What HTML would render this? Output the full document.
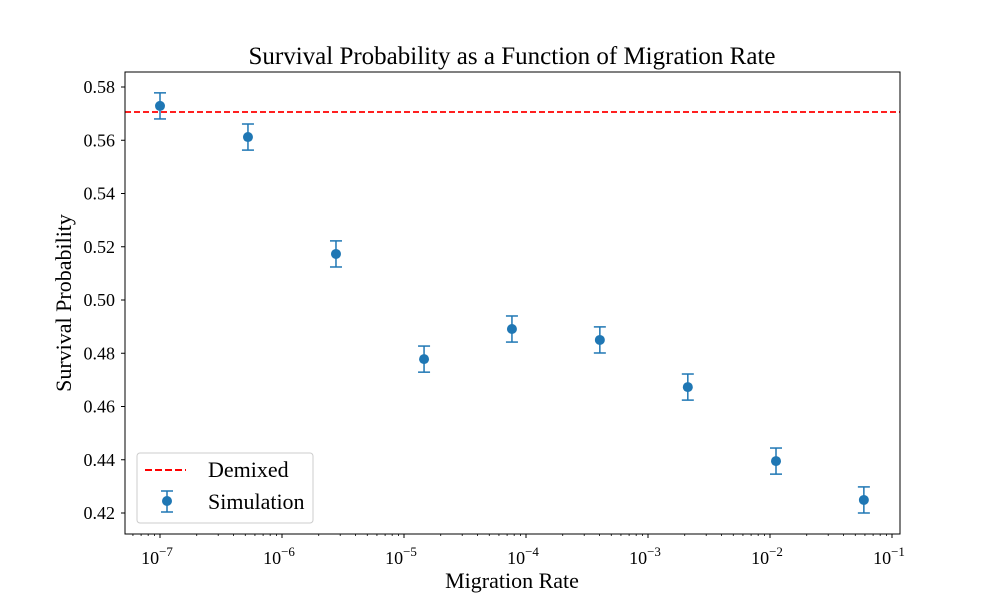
<!DOCTYPE html>
<html><head><meta charset="utf-8"><style>
body{margin:0;background:#fff}
svg text{font-family:"Liberation Serif",serif;fill:#000}
</style></head><body>
<svg id="chart" width="1000" height="600">
<text x="512" y="64" font-size="25" text-anchor="middle">Survival Probability as a Function of Migration Rate</text>
<g id="axes"></g>
<g id="marks"></g>
<text x="512" y="588" font-size="22" text-anchor="middle">Migration Rate</text>
<text transform="translate(71,303) rotate(-90)" font-size="22" text-anchor="middle">Survival Probability</text>
<rect x="125" y="72" width="775" height="462" fill="none" stroke="#000" stroke-width="1"/>
<g>
<rect x="137" y="453" width="176" height="70" rx="3" fill="#fff" fill-opacity="0.8" stroke="#ccc"/>
<line x1="145" y1="470" x2="186" y2="470" stroke="red" stroke-width="2" stroke-dasharray="7,3"/>
<text x="208" y="477" font-size="22">Demixed</text>
<g stroke="#1f77b4" stroke-width="1.5">
<line x1="167" y1="491" x2="167" y2="512"/><line x1="161" y1="491" x2="173" y2="491"/><line x1="161" y1="512" x2="173" y2="512"/>
</g>
<circle cx="167" cy="501" r="5" fill="#1f77b4"/>
<text x="208" y="509" font-size="22">Simulation</text>
</g>
</svg>
<script>
const rates = [1e-7, 5.26e-7, 2.77e-6, 1.46e-5, 7.67e-5, 4.03e-4, 2.12e-3, 1.12e-2, 5.88e-2];
const survival = [0.5729, 0.5612, 0.5173, 0.4778, 0.4891, 0.4850, 0.4673, 0.4395, 0.4249];
const errors = [0.0049, 0.0049, 0.0049, 0.0049, 0.0049, 0.0049, 0.0049, 0.0049, 0.0049];
const demixed = 0.5706;
const yTicks = [0.42, 0.44, 0.46, 0.48, 0.50, 0.52, 0.54, 0.56, 0.58];
const xDecades = [-7, -6, -5, -4, -3, -2, -1];
const NS = "http://www.w3.org/2000/svg";
const L = 125, R = 900, T = 72, B = 534;
function xs(v){ return 160 + (Math.log10(v) + 7) * 122; }
function ys(v){ return 513 - (v - 0.42) / 0.02 * 53.25; }
function mk(tag, attrs, parent){ const e = document.createElementNS(NS, tag); for (const k in attrs) e.setAttribute(k, attrs[k]); parent.appendChild(e); return e; }
const axes = document.getElementById('axes'), marks = document.getElementById('marks');
yTicks.forEach(t => {
  const y = ys(t);
  const l = mk('line', {x1: L-4, x2: L, y1: y, y2: y, stroke: '#000'}, axes);
  
  
  const tx = mk('text', {x: L-10, y: y+6, 'font-size': 18, 'text-anchor': 'end'}, axes);
  tx.textContent = t.toFixed(2);
  
  
});
for (let d = -8; d <= -1; d++) {
  for (let m = 2; m <= 9; m++) {
    const x = xs(m * Math.pow(10, d));
    if (x < L || x > R) continue;
    const l = mk('line', {x1: x, x2: x, y1: B, y2: B+2, stroke: '#000', 'stroke-width': 0.8}, axes);
    
    
  }
}
xDecades.forEach(d => {
  const x = xs(Math.pow(10, d));
  const l = mk('line', {x1: x, x2: x, y1: B, y2: B+4, stroke: '#000'}, axes);
  
  
  const tx = mk('text', {x: x-3, y: B+30, 'font-size': 18, 'text-anchor': 'middle'}, axes);
  tx.innerHTML = '10<tspan dy="-8" font-size="13">\u2212' + Math.abs(d) + '</tspan>';
  
  
});
const dl = mk('line', {x1: L, x2: R, y1: ys(demixed), y2: ys(demixed), stroke: 'red', 'stroke-width': 1.7, 'stroke-dasharray': '6,3'}, marks);


rates.forEach((r, i) => {
  const x = xs(r), y0 = ys(survival[i] - errors[i]), y1 = ys(survival[i] + errors[i]);
  const g = mk('g', {stroke: '#1f77b4', 'stroke-width': 1.5}, marks);
  
  
  mk('line', {x1: x, x2: x, y1: y0, y2: y1}, g);
  mk('line', {x1: x-6, x2: x+6, y1: y0, y2: y0}, g);
  mk('line', {x1: x-6, x2: x+6, y1: y1, y2: y1}, g);
  const c = mk('circle', {cx: x, cy: ys(survival[i]), r: 5, fill: '#1f77b4'}, marks);
  
  
});
</script>
</body></html>
